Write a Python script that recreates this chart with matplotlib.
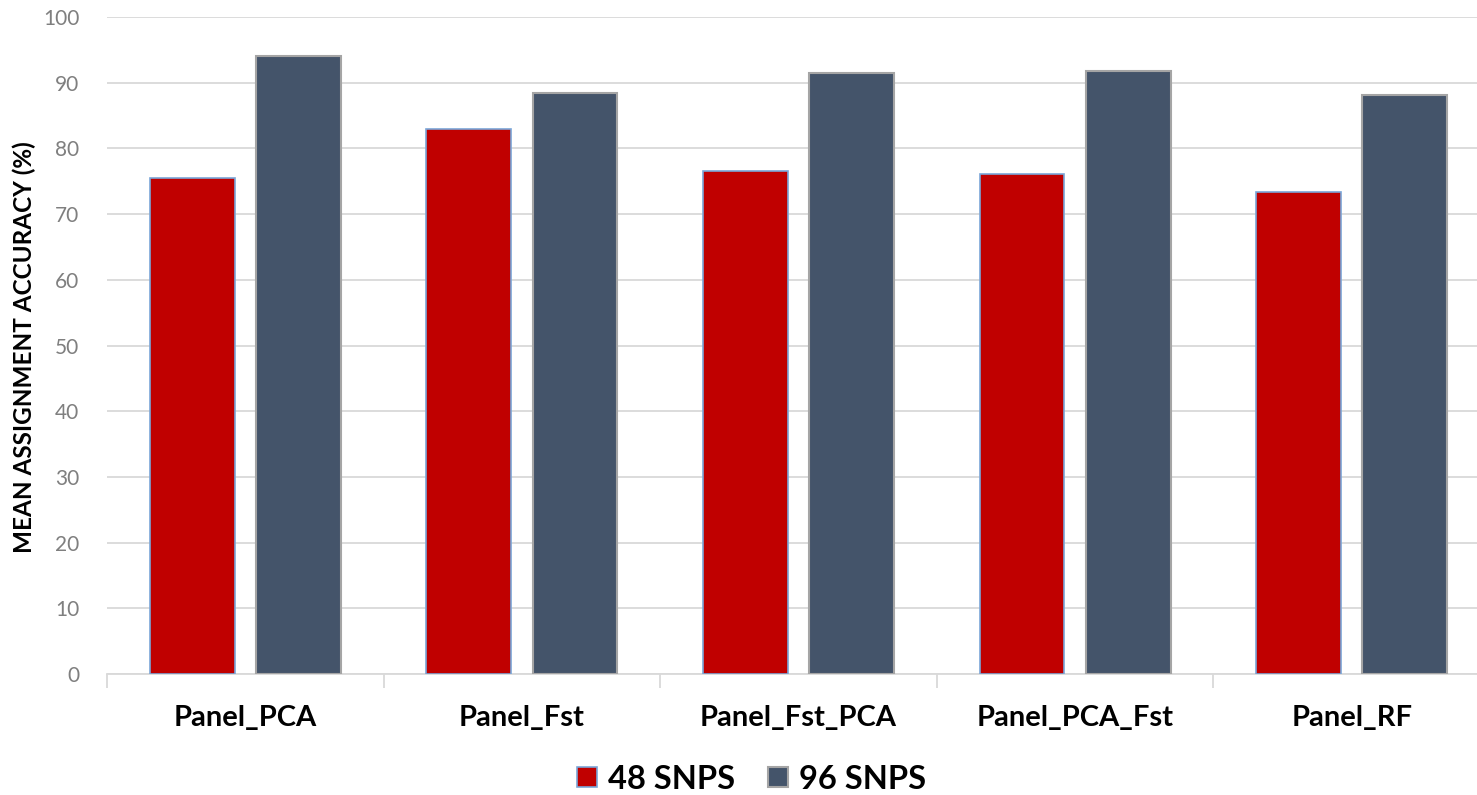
import numpy as np
import matplotlib.pyplot as plt
from matplotlib.patches import Patch

# Mean assignment accuracy per panel for the two SNP panel sizes
panels = ['Panel_PCA', 'Panel_Fst', 'Panel_Fst_PCA', 'Panel_PCA_Fst', 'Panel_RF']
snps_48 = [75.5, 83.0, 76.6, 76.1, 73.4]
snps_96 = [94.0, 88.5, 91.5, 91.8, 88.2]
series_labels = ['48 SNPS', '96 SNPS']
y_ticks = list(range(0, 101, 10))

plt.rcParams['font.family'] = ['Lato', 'DejaVu Sans']

fig = plt.figure(figsize=(14.77, 7.95), dpi=100)
ax = fig.add_axes([107 / 1477, 121 / 795, 1383 / 1477, 657 / 795])

x = np.arange(len(panels))
width = 0.307
offset = 0.192
ax.bar(x - offset, snps_48, width, color='#c00000', edgecolor='#7aa6d8',
       linewidth=1.2, zorder=3)
ax.bar(x + offset, snps_96, width, color='#44546a', edgecolor='#a5a5a5',
       linewidth=1.5, zorder=3)

ax.set_xlim(-0.5, len(panels) - 0.5)
ax.set_ylim(0, 100)
ax.set_yticks(y_ticks)
ax.tick_params(axis='y', length=0, labelsize=15, labelcolor='#7f7f7f', pad=20)
ax.yaxis.grid(True, color='#d9d9d9', linewidth=1.3, zorder=0)

# category labels at centers, boundary ticks between categories
ax.set_xticks(x)
ax.set_xticklabels(panels, fontsize=21, fontweight='bold')
ax.set_xticks(np.arange(-0.5, len(panels), 1.0), minor=True)
ax.tick_params(axis='x', which='major', length=0, pad=22)
ax.tick_params(axis='x', which='minor', length=10, color='#d9d9d9', width=1.3)

for side in ['top', 'right', 'left']:
    ax.spines[side].set_visible(False)
ax.spines['bottom'].set_color('#d9d9d9')
ax.spines['bottom'].set_linewidth(1.3)

ax.set_ylabel('MEAN ASSIGNMENT ACCURACY (%)', fontsize=17.5, fontweight='bold')
ax.yaxis.set_label_coords(-0.051, 0.497)

handles = [Patch(facecolor='#c00000', edgecolor='#7aa6d8', linewidth=1.2),
           Patch(facecolor='#44546a', edgecolor='#a5a5a5', linewidth=1.5)]
fig.legend(handles, series_labels, loc='center', bbox_to_anchor=(0.509, 0.02),
           ncol=2, frameon=False, prop={'size': 23.5, 'weight': 'bold'},
           handlelength=0.6, handleheight=0.6, handletextpad=0.35,
           columnspacing=1.0)

fig.savefig('out.png', dpi=100)
